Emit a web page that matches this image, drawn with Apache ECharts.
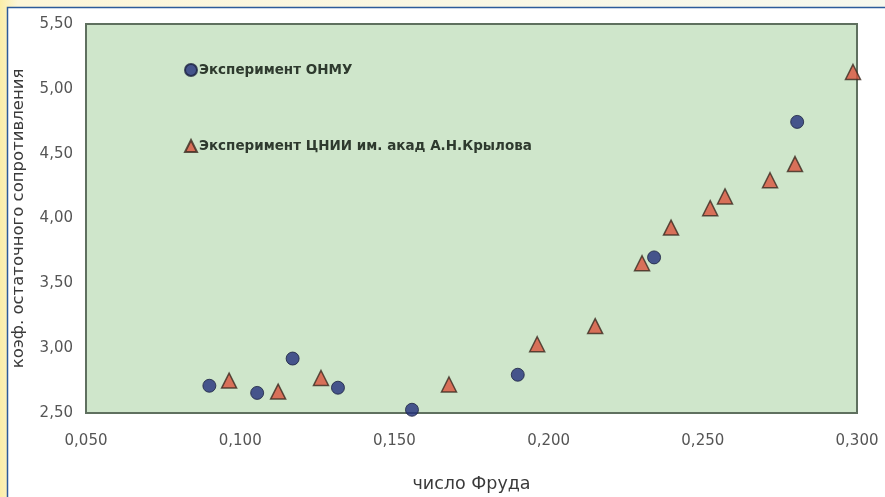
<!DOCTYPE html>
<html>
<head>
<meta charset="utf-8">
<script src="https://cdn.jsdelivr.net/npm/echarts@6/dist/echarts.min.js"></script>
<style>
html,body{margin:0;padding:0;background:#fbf3cf;}
#c{width:885px;height:497px;}
</style>
</head>
<body>
<div id="c"></div>
<script>
// Data (Froude number, residual resistance coefficient)
const onmuFroude = [0.090, 0.1055, 0.117, 0.1317, 0.1557, 0.190, 0.2342, 0.2806];
const onmuCoef   = [2.71, 2.655, 2.92, 2.695, 2.525, 2.795, 3.70, 4.745];
const kryFroude  = [0.0964, 0.1123, 0.1262, 0.1677, 0.1963, 0.2151, 0.2303, 0.2397, 0.2524, 0.2572, 0.2718, 0.2799, 0.2987];
const kryCoef    = [2.75, 2.665, 2.77, 2.72, 3.03, 3.17, 3.655, 3.93, 4.08, 4.17, 4.295, 4.42, 5.13];
const seriesNames = ['Эксперимент ОНМУ', 'Эксперимент ЦНИИ им. акад А.Н.Крылова'];
const xName = 'число Фруда';
const yName = 'коэф. остаточного сопротивления';

const zip = (a, b) => a.map((v, i) => [v, b[i]]);
const chart = echarts.init(document.getElementById('c'));
chart.setOption({
  animation: false,
  backgroundColor: 'transparent',
  graphic: [
    {type: 'rect', z: -10, shape: {x: 0, y: 0, width: 885, height: 497},
     style: {fill: new echarts.graphic.LinearGradient(0, 0, 1, 0, [
       {offset: 0, color: '#fbeea8'}, {offset: 0.02, color: '#fdf6d8'}, {offset: 1, color: '#f6f8ee'}])}},
    {type: 'rect', z: -9, shape: {x: 7.5, y: 7.5, width: 890, height: 500},
     style: {fill: '#ffffff', stroke: '#2d5b9a', lineWidth: 1.5}}
  ],
  grid: {left: 86, right: 28, top: 24, bottom: 84, show: true, outerBoundsMode: 'none', containLabel: false,
         backgroundColor: '#cfe6cb', borderColor: '#5f705f', borderWidth: 2},
  legend: {
    orient: 'vertical', left: 179, top: 58, itemGap: 62,
    itemWidth: 12, itemHeight: 12,
    textStyle: {fontFamily: 'DejaVu Sans', fontSize: 13.5, fontWeight: 'bold', color: '#2e3a2e', padding: [0, 0, 0, -3]},
    data: [{name: seriesNames[0], icon: 'circle'}, {name: seriesNames[1], icon: 'triangle'}]
  },
  xAxis: {
    type: 'value', min: 0.05, max: 0.3, interval: 0.05,
    name: xName, nameLocation: 'middle', nameGap: 62,
    nameTextStyle: {fontFamily: 'DejaVu Sans', fontSize: 17.5, color: '#3a3a3a'},
    axisLine: {show: false}, axisTick: {show: false}, splitLine: {show: false},
    axisLabel: {margin: 21, fontFamily: 'DejaVu Sans', fontSize: 15, color: '#555555',
      formatter: v => v.toFixed(3).replace('.', ',')}
  },
  yAxis: {
    type: 'value', min: 2.5, max: 5.5, interval: 0.5,
    name: yName, nameLocation: 'middle', nameGap: 59, nameRotate: 90,
    nameTextStyle: {fontFamily: 'DejaVu Sans', fontSize: 16.5, color: '#3a3a3a'},
    axisLine: {show: false}, axisTick: {show: false}, splitLine: {show: false},
    axisLabel: {margin: 13, fontFamily: 'DejaVu Sans', fontSize: 15, color: '#555555',
      formatter: v => v.toFixed(2).replace('.', ',')}
  },
  series: [
    {name: seriesNames[0], type: 'scatter', symbol: 'circle', symbolSize: 13,
     itemStyle: {color: '#22307a', borderColor: '#1a2040', borderWidth: 1},
     data: zip(onmuFroude, onmuCoef)},
    {name: seriesNames[1], type: 'scatter', symbol: 'triangle', symbolSize: 15,
     itemStyle: {color: '#d9533c', borderColor: '#3a2a20', borderWidth: 1.5},
     data: zip(kryFroude, kryCoef)}
  ]
});
</script>
</body>
</html>
